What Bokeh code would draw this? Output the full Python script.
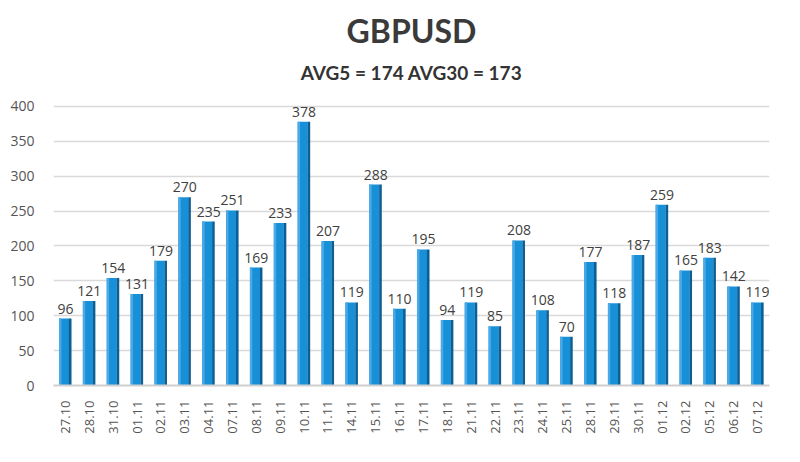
import math
from bokeh.plotting import figure
from bokeh.models import Range1d, FactorRange, FixedTicker, Title, ColumnDataSource
from bokeh.transform import dodge
from bokeh.embed import file_html
from bokeh.resources import INLINE

dates = ["27.10", "28.10", "31.10", "01.11", "02.11", "03.11", "04.11", "07.11", "08.11", "09.11",
         "10.11", "11.11", "14.11", "15.11", "16.11", "17.11", "18.11", "21.11", "22.11", "23.11",
         "24.11", "25.11", "28.11", "29.11", "30.11", "01.12", "02.12", "05.12", "06.12", "07.12"]
values = [96, 121, 154, 131, 179, 270, 235, 251, 169, 233,
          378, 207, 119, 288, 110, 195, 94, 119, 85, 208,
          108, 70, 177, 118, 187, 259, 165, 183, 142, 119]
y_ticks = [0, 50, 100, 150, 200, 250, 300, 350, 400]
title_text = "GBPUSD"
subtitle_text = "AVG5 = 174 AVG30 = 173"

src = ColumnDataSource(dict(date=dates, val=values, lab=[str(v) for v in values]))

p = figure(width=784, height=446, x_range=FactorRange(*dates), y_range=Range1d(0, 420),
           output_backend="svg", toolbar_location=None,
           min_border_left=53, min_border_right=15, min_border_top=92, min_border_bottom=61)
p.outline_line_color = None
p.background_fill_color = "white"

p.add_layout(Title(text=subtitle_text, align="center", text_font="Lato", text_font_size="19px",
                   text_font_style="bold", text_color="#333333", standoff=17), "above")
p.add_layout(Title(text=title_text, align="center", text_font="Lato", text_font_size="32px",
                   text_font_style="bold", text_color="#3a3a3a", standoff=0,
                   vertical_align="middle"), "above")

# bars: front face, highlight, darker side face
p.vbar(x=dodge("date", -0.06, range=p.x_range), top="val", width=0.42, source=src,
       fill_color="#1890d8", line_color=None)
p.vbar(x=dodge("date", -0.22, range=p.x_range), top="val", width=0.1, source=src,
       fill_color="#4aa9e6", line_color=None)
p.vbar(x=dodge("date", 0.2, range=p.x_range), top="val", width=0.11, source=src,
       fill_color="#0b5f94", line_color=None)

p.text(x="date", y="val", text="lab", source=src, text_align="center", text_baseline="bottom",
       y_offset=-5, text_font_size="14px", text_color="#404040", text_font={"value": "Open Sans"})

p.yaxis.ticker = FixedTicker(ticks=y_ticks)
p.yaxis.axis_line_color = None
p.yaxis.major_tick_line_color = None
p.yaxis.minor_tick_line_color = None
p.yaxis.major_label_standoff = 13
p.yaxis.major_label_text_font = "Open Sans"
p.yaxis.major_label_text_font_size = "14px"
p.yaxis.major_label_text_color = "#555555"

p.xaxis.axis_line_color = "#cfcfcf"
p.xaxis.axis_line_width = 2
p.xaxis.major_tick_line_color = None
p.xaxis.minor_tick_line_color = None
p.xaxis.major_label_orientation = math.pi / 2
p.xaxis.major_label_standoff = 9
p.xaxis.major_label_text_font = "Open Sans"
p.xaxis.major_label_text_font_size = "13px"
p.xaxis.major_label_text_color = "#555555"

p.xgrid.grid_line_color = None
p.ygrid.grid_line_color = "#d9d9d9"
p.ygrid.grid_line_width = 1.5
p.x_range.range_padding = 0

open("out.html", "w").write(file_html(p, INLINE))
